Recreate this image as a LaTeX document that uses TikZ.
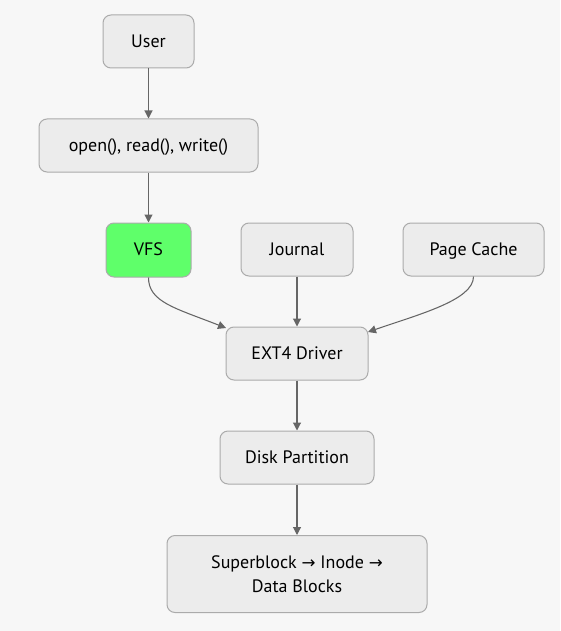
\documentclass[tikz,border=0pt]{standalone}
\usepackage{fontspec}
\setmainfont{PT Sans}
\newfontfamily\symfont{DejaVu Sans}
\usetikzlibrary{arrows.meta}
\definecolor{bgc}{HTML}{F7F7F7}
\definecolor{nodefill}{HTML}{ECECEC}
\definecolor{nodeline}{HTML}{ABABAB}
\definecolor{vfsfill}{HTML}{5FFF6A}
\definecolor{arrowc}{HTML}{666666}
\newcommand{\rarr}{{\symfont\fontsize{12.5pt}{12pt}\selectfont →}}
\begin{document}
\begin{tikzpicture}[x=0.75pt,y=-0.75pt,
  box/.style={draw=nodeline,fill=nodefill,rounded corners=6pt,line width=0.75pt,
    inner sep=0pt,align=center,font=\fontsize{13.5pt}{18pt}\selectfont},
  one/.style={text height=1.0em,text depth=0.16em},
  conn/.style={draw=arrowc,line width=0.8pt,-{Triangle[length=6pt,width=6pt]}}]
\fill[bgc] (0,0) rectangle (560,631);
\useasboundingbox (0,0) rectangle (560,631);
\node[box,one,minimum width=91*0.75pt,minimum height=53*0.75pt] (user) at (148.5,41.5) {User};
\node[box,one,minimum width=219*0.75pt,minimum height=53*0.75pt] (sys) at (148.5,145.5) {open(), read(), write()};
\node[box,one,fill=vfsfill,minimum width=85*0.75pt,minimum height=54*0.75pt] (vfs) at (148.5,250) {VFS};
\node[box,one,minimum width=112*0.75pt,minimum height=53*0.75pt] (jour) at (297,249.5) {Journal};
\node[box,one,minimum width=141*0.75pt,minimum height=53*0.75pt] (cache) at (473.5,249.5) {Page Cache};
\node[box,one,minimum width=142*0.75pt,minimum height=53*0.75pt] (ext) at (297,353.5) {EXT4 Driver};
\node[box,one,minimum width=154*0.75pt,minimum height=53*0.75pt] (disk) at (297,457.5) {Disk Partition};
\node[box,minimum width=260*0.75pt,minimum height=77*0.75pt] (sb) at (297,574) {Superblock \rarr{} Inode \rarr\\Data Blocks};
\coordinate (extL) at (226,328);
\coordinate (extR) at (368,332);
\draw[conn] (user.south) -- (sys.north);
\draw[conn] (sys.south) -- (vfs.north);
\draw[conn] (jour.south) -- (ext.north);
\draw[conn] (vfs.south) .. controls (148.5,302) and (175,308) .. (extL);
\draw[conn] (cache.south) .. controls (473.5,300) and (420,314) .. (extR);
\draw[conn] (ext.south) -- (disk.north);
\draw[conn] (disk.south) -- (sb.north);
\end{tikzpicture}
\end{document}
